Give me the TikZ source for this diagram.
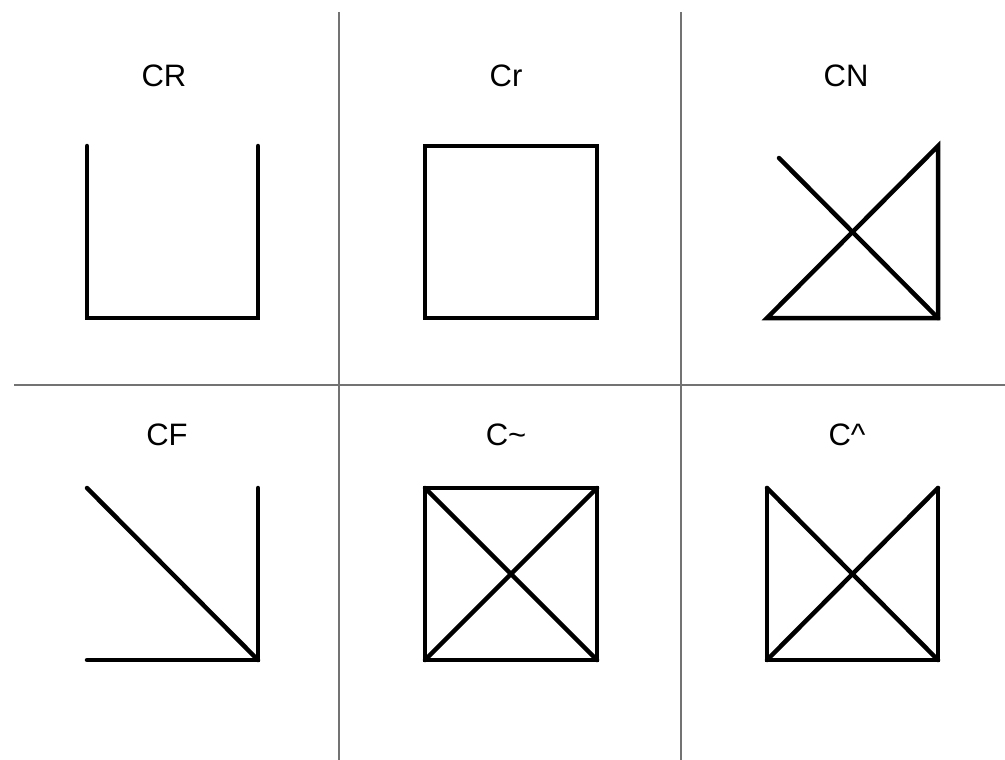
\documentclass[tikz,border=0pt]{standalone}
\usepackage{fontspec}
\setmainfont{Liberation Sans}
\usetikzlibrary{positioning}

\begin{document}
\begin{tikzpicture}[x=1pt, y=-1pt,
        glyph/.style={line width=4.5pt, line cap=round, line join=miter},
        divider/.style={line width=2pt, draw=black!55},
        tag/.style={inner sep=0pt, font=\fontsize{31}{31}\selectfont}]
    \useasboundingbox (0,0) rectangle (1005,760);

    % grid
    \draw[divider] (339,12) -- (339,760);
    \draw[divider] (681,12) -- (681,760);
    \draw[divider] (14,385) -- (1005,385);

    % labels
    \node[tag] (cr) at (164,76) {CR};
    \node[tag] (crs) at (506,76) {Cr};
    \node[tag] (cn) at (846,76) {CN};
    \node[tag] (cf) at (167,435) {CF};
    \node[tag] (ctilde) at (506,435) {C\textasciitilde};
    \node[tag] (chat) at (847,435) {C\textasciicircum};

    % CR
    \begin{scope}[shift={(87,146)}]
        \draw[glyph] (0,0) -- (0,172) -- (171,172) -- (171,0);
    \end{scope}
    % Cr
    \begin{scope}[shift={(425,146)}]
        \draw[glyph] (0,0) rectangle (172,172);
    \end{scope}
    % CN
    \begin{scope}[shift={(767,146)}]
        \draw[glyph] (171,0) -- (171,172) -- (0,172) -- cycle;
        \draw[glyph] (12,12) -- (171,172);
    \end{scope}
    % CF
    \begin{scope}[shift={(87,488)}]
        \draw[glyph] (0,172) -- (171,172) -- (171,0);
        \draw[glyph] (0,0) -- (171,172);
    \end{scope}
    % C~
    \begin{scope}[shift={(425,488)}]
        \draw[glyph] (0,0) rectangle (172,172);
        \draw[glyph] (0,0) -- (172,172);
        \draw[glyph] (172,0) -- (0,172);
    \end{scope}
    % C^
    \begin{scope}[shift={(767,488)}]
        \draw[glyph] (0,0) -- (0,172) -- (171,172) -- (171,0);
        \draw[glyph] (0,0) -- (171,172);
        \draw[glyph] (171,0) -- (0,172);
    \end{scope}
\end{tikzpicture}
\end{document}
